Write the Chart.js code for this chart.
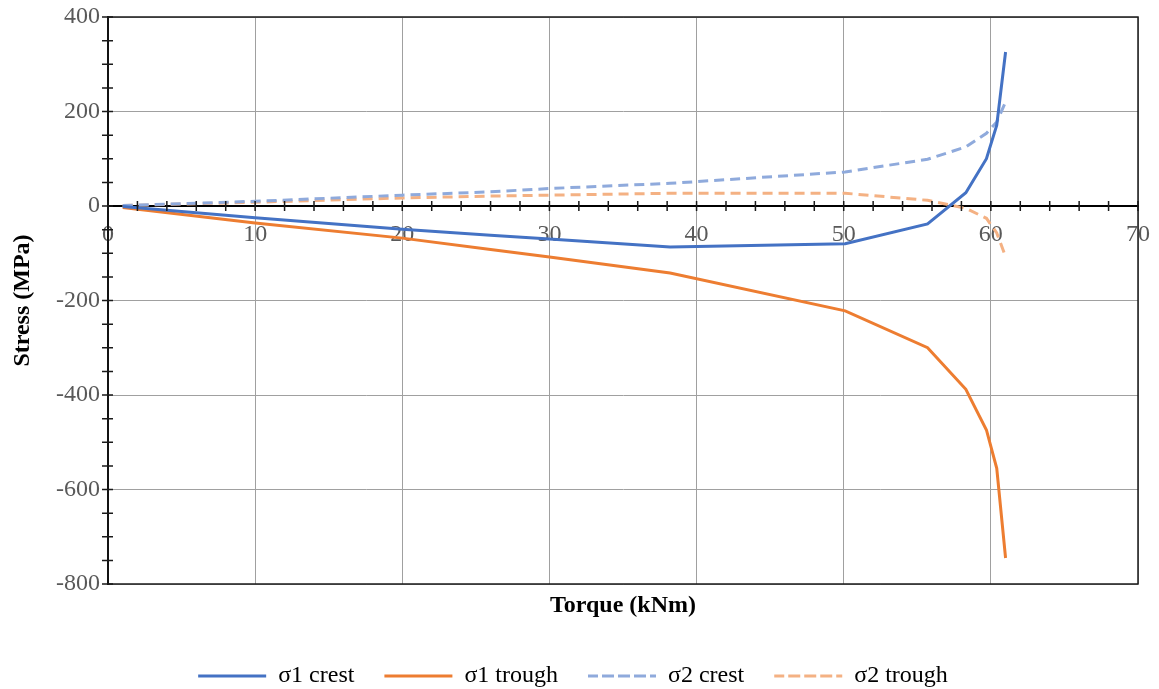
<!DOCTYPE html>
<html>
<head>
<meta charset="utf-8">
<title>Stress vs torque</title>
<script src="https://cdn.jsdelivr.net/npm/chart.js@4/dist/chart.umd.min.js"></script>
<style>
  body { margin: 0; background: #fff; }
  #grafica { display: block; }
</style>
</head>
<body>
<canvas id="grafica" width="1159" height="689"></canvas>
<script>
// datos
const torque   = [1.0, 10, 20, 26, 30, 38.2, 50.1, 55.7, 58.3, 59.7, 60.4, 61.0];
const s1Crest  = [-1, -25, -49, -62, -70, -87, -80, -38, 28, 100, 171, 326];
const s1Trough = [-3, -36, -68, -92, -108, -142, -222, -300, -388, -474, -555, -745];
const s2Crest  = [1, 10, 23, 30, 37, 48, 72, 99, 125, 154, 178, 220];
const s2Trough = [1, 8, 17, 21, 23, 27, 27, 12, -5, -26, -57, -107];
const nombres  = ['σ1 crest', 'σ1 trough', 'σ2 crest', 'σ2 trough'];
const xTicks   = [0, 10, 20, 30, 40, 50, 60, 70];
const yTicks   = [-800, -600, -400, -200, 0, 200, 400];

const gris = '#a0a0a0';
const textoGris = '#595959';
Chart.defaults.font.family = "'Liberation Serif', 'Times New Roman', serif";

function puntos(serie){
  return torque.map((t, i) => ({x: t, y: serie[i]}));
}

// marcas pequeñas de los ejes y el marco
const marcas = {
  id: 'marcas',
  afterDraw(chart){
    const {ctx, chartArea, scales} = chart;
    const y0 = scales.y.getPixelForValue(0);
    ctx.save();
    ctx.strokeStyle = '#1a1a1a';
    ctx.lineWidth = 1.5;
    ctx.strokeRect(chartArea.left, chartArea.top, chartArea.right - chartArea.left, chartArea.bottom - chartArea.top);
    ctx.beginPath();
    for (let v = -800; v <= 400; v += 50){
      const py = scales.y.getPixelForValue(v);
      ctx.moveTo(chartArea.left - 6, py);
      ctx.lineTo(chartArea.left + 5, py);
    }
    for (let v = 0; v <= 70; v += 2){
      const px = scales.x.getPixelForValue(v);
      ctx.moveTo(px, y0 - 5);
      ctx.lineTo(px, y0 + 5);
    }
    ctx.stroke();
    ctx.restore();
  }
};

const colores = ['#4472C4', '#ED7D31', '#8FAADC', '#F4B183'];
const series = [s1Crest, s1Trough, s2Crest, s2Trough];

new Chart(document.getElementById('grafica'), {
  type: 'line',
  data: {
    datasets: series.map((s, i) => ({
      label: nombres[i],
      data: puntos(s),
      borderColor: colores[i],
      backgroundColor: colores[i],
      borderWidth: 3,
      borderDash: i < 2 ? [] : [10, 6],
      pointRadius: 0,
      tension: 0,
      fill: false
    }))
  },
  options: {
    responsive: false,
    animation: false,
    layout: { padding: { left: 8, top: 17, right: 21, bottom: -9 } },
    plugins: {
      tooltip: { enabled: false },
      legend: {
        position: 'bottom',
        labels: {
          color: '#000',
          font: { size: 24 },
          boxWidth: 68,
          boxHeight: 0,
          padding: 30
        }
      }
    },
    scales: {
      x: {
        type: 'linear',
        position: { y: 0 },
        min: 0, max: 70,
        afterBuildTicks: (s) => { s.ticks = []; for (let v = 0; v <= 70; v += 2) s.ticks.push({value: v}); },
        afterFit: (s) => { s.paddingLeft = 0; s.paddingRight = 0; },
        ticks: {
          autoSkip: false,
          maxRotation: 0,
          color: textoGris,
          font: { size: 24 },
          padding: 14,
          callback: (v) => xTicks.includes(v) ? String(v) : ''
        },
        grid: {
          drawTicks: false,
          color: (c) => (c.tick && xTicks.includes(c.tick.value)) ? gris : 'rgba(0,0,0,0)'
        },
        border: { display: true, color: '#000', width: 2 }
      },
      xb: {
        type: 'linear',
        position: 'bottom',
        min: 0, max: 70,
        ticks: { display: false },
        grid: { display: false, drawTicks: false },
        border: { display: false },
        title: {
          display: true,
          text: 'Torque (kNm)',
          color: '#000',
          font: { size: 24, weight: 'bold' },
          padding: { top: 4, bottom: 14 }
        },
        afterFit: (s) => { s.height = 50; s.paddingLeft = 0; s.paddingRight = 0; }
      },
      y: {
        type: 'linear',
        position: 'left',
        min: -800, max: 400,
        afterBuildTicks: (s) => { s.ticks = []; for (let v = -800; v <= 400; v += 50) s.ticks.push({value: v}); },
        ticks: {
          autoSkip: false,
          color: textoGris,
          font: { size: 24 },
          padding: 8,
          callback: (v) => yTicks.includes(v) ? String(v) : ''
        },
        grid: {
          drawTicks: false,
          color: (c) => (c.tick && yTicks.includes(c.tick.value)) ? gris : 'rgba(0,0,0,0)'
        },
        border: { display: true, color: '#000', width: 2 },
        title: {
          display: true,
          text: 'Stress (MPa)',
          color: '#000',
          font: { size: 24, weight: 'bold' },
          padding: 0
        },
        afterFit: (s) => { s.width = 100; s.paddingTop = 0; s.paddingBottom = 0; }
      }
    }
  },
  plugins: [marcas]
});
</script>
</body>
</html>
